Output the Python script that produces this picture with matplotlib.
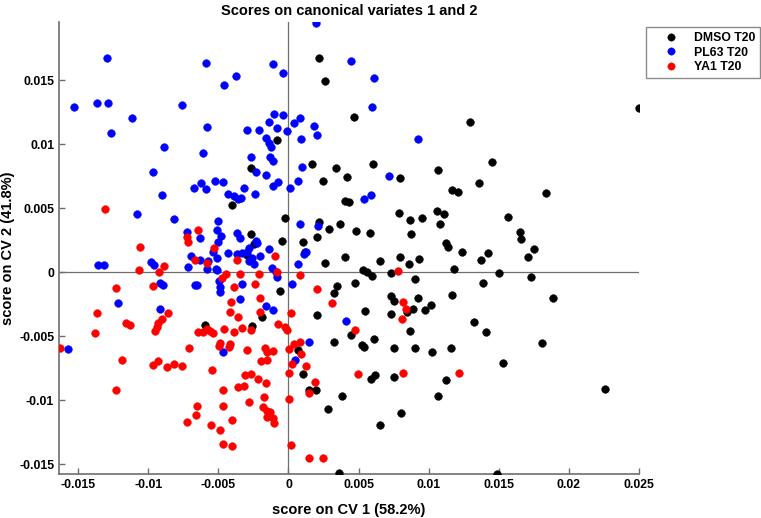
import matplotlib
matplotlib.use("Agg")
import matplotlib.pyplot as plt

plt.rcParams['font.family'] = ['Liberation Sans', 'DejaVu Sans']

title = "Scores on canonical variates 1 and 2"
xlabel = "score on CV 1 (58.2%)"
ylabel = "score on CV 2 (41.8%)"
group_names = ["DMSO T20", "PL63 T20", "YA1 T20"]
group_colors = ["#000000", "#0000ff", "#ff0000"]

xticks = [-0.015, -0.01, -0.005, 0, 0.005, 0.01, 0.015, 0.02, 0.025]
xticklabels = ["-0.015", "-0.01", "-0.005", "0", "0.005", "0.01", "0.015", "0.02", "0.025"]
yticks = [-0.015, -0.01, -0.005, 0, 0.005, 0.01, 0.015]
yticklabels = ["-0.015", "-0.01", "-0.005", "0", "0.005", "0.01", "0.015"]

dmso_x = [0.00219, 0.00262, 0.00469, -0.00081, -0.00269, -0.00406, -0.00027, 0.00169, 0.00336, 0.00248,
          0.00417, 0.00601, 0.00407, 0.00431, 0.00216, 0.00286, 0.00367, 0.00479, 0.00582, 0.00203,
          0.00103, -0.00043, -0.00266, 0.00118, 0.00405, -0.00243, -0.00297, 0.02505, 0.01293, 0.01453,
          0.01067, 0.00793, 0.01357, 0.01169, 0.01210, 0.01841, 0.00791, 0.00864, 0.00953, 0.01059,
          0.01112, 0.01081, 0.01564, 0.01650, 0.01657, 0.01755, 0.00876, 0.01121, 0.01136, 0.01236,
          0.01421, 0.01371, 0.00798, 0.00934, 0.01710, 0.01179, 0.01505, 0.01731, 0.01386, 0.01891,
          0.01167, 0.00905, 0.00729, 0.00734, 0.00755, 0.00926, 0.00889, 0.00846, 0.00974, 0.01014,
          0.00734, 0.00867, 0.01321, 0.01410, 0.01812, 0.00755, 0.00903, 0.01026, 0.01160, 0.01531,
          0.00753, 0.01124, 0.01069, 0.02260, 0.00800, 0.00655, 0.01491, 0.00448, 0.00526, 0.00539,
          0.00612, 0.00591, 0.00617, 0.00384, 0.00362, 0.00650, 0.00860, 0.00534, 0.00564, 0.00594,
          0.00476, 0.00546, -0.00595, -0.00261, -0.00191, -0.00061, 0.00323, 0.00346, 0.00203, 0.00262,
          0.00067, 0.00101, 0.00150, 0.00200, 0.00280, 0.00323]
dmso_y = [0.01670, 0.01497, 0.01213, 0.01031, 0.00813, 0.00522, 0.00420, 0.00842, 0.00811, 0.00716,
          0.00747, 0.00842, 0.00559, 0.00545, 0.00393, 0.00337, 0.00375, 0.00320, 0.00309, 0.00273,
          0.00233, 0.00248, 0.00297, 0.00159, 0.00122, 0.00219, 0.00135, 0.01284, 0.01172, 0.00862,
          0.00799, 0.00734, 0.00698, 0.00643, 0.00627, 0.00620, 0.00466, 0.00405, 0.00424, 0.00475,
          0.00455, 0.00375, 0.00432, 0.00317, 0.00263, 0.00180, 0.00299, 0.00231, 0.00200, 0.00159,
          0.00148, 0.00096, 0.00120, 0.00104, 0.00116, 0.00028, -0.00005, -0.00037, -0.00084, -0.00201,
          -0.00180, -0.00052, -0.00008, -0.00185, -0.00224, -0.00203, -0.00289, -0.00308, -0.00292, -0.00255,
          -0.00326, -0.00459, -0.00391, -0.00464, -0.00552, -0.00589, -0.00594, -0.00620, -0.00594, -0.00709,
          -0.00820, -0.00841, -0.00969, -0.00909, -0.01099, -0.01197, -0.01576, -0.00492, -0.00568, -0.00584,
          -0.00519, -0.00836, -0.00800, -0.00969, -0.01570, 0.00086, 0.00063, 0.00020, 0.00000, -0.00027,
          -0.00084, -0.00305, -0.00414, -0.00417, -0.00347, -0.00144, -0.00164, -0.00107, -0.00330, 0.00070,
          -0.00609, -0.00795, -0.00916, -0.00920, -0.01066, -0.00542]

pl63_x = [0.00198, -0.01296, -0.00586, -0.00371, -0.00461, -0.00113, -0.00038, -0.01533, -0.01364, -0.01288,
          -0.01116, -0.01264, -0.00759, -0.00579, -0.00890, -0.00611, -0.00969, -0.00906, -0.01081, -0.00816,
          -0.00674, -0.00624, -0.00586, -0.00524, -0.00470, -0.00434, -0.00386, -0.00359, -0.00336, -0.00314,
          -0.00241, -0.00293, -0.00208, -0.00270, -0.00229, -0.00159, -0.00140, -0.00106, -0.00036, -0.00079,
          -0.00161, -0.00141, -0.00127, -0.00132, -0.00113, -0.00111, -0.00074, 0.00009, -0.00009, 0.00041,
          0.00084, 0.00093, 0.00179, 0.00201, 0.00066, 0.00098, 0.00446, 0.00607, 0.00598, 0.00541,
          0.00591, 0.00085, 0.00212, -0.00504, -0.00509, -0.00479, -0.00504, -0.00724, -0.00631, -0.00369,
          -0.00349, -0.00231, -0.00222, -0.00140, 0.00924, 0.00721, -0.00699, -0.00634, -0.01359, -0.01314,
          -0.00983, -0.00957, -0.00716, -0.00914, -0.00893, -0.00669, -0.00652, -0.01216, -0.00914, -0.01574,
          -0.00536, -0.00509, -0.00574, -0.00519, -0.00507, -0.00581, -0.00433, -0.00364, -0.00331, -0.00295,
          -0.00281, -0.00257, -0.00247, -0.00202, -0.00279, -0.00114, -0.00088, -0.00079, 0.00067, 0.00112,
          0.00123, 0.00024, -0.00329, -0.00347, -0.00161, -0.00109, -0.00499, -0.00491, -0.00488, -0.00470,
          0.00150, 0.00050, 0.00410]
pl63_y = [0.01950, 0.01677, 0.01638, 0.01534, 0.01466, 0.01625, 0.01556, 0.01294, 0.01325, 0.01325,
          0.01208, 0.01088, 0.01305, 0.01135, 0.00979, 0.00932, 0.00786, 0.00604, 0.00458, 0.00416,
          0.00656, 0.00700, 0.00648, 0.00713, 0.00702, 0.00612, 0.00594, 0.00573, 0.00577, 0.00656,
          0.00609, 0.01114, 0.01114, 0.00902, 0.00784, 0.00756, 0.01174, 0.01237, 0.01229, 0.01130,
          0.01045, 0.01012, 0.00979, 0.00901, 0.00871, 0.00670, 0.00703, 0.00656, 0.01104, 0.01164,
          0.01202, 0.01043, 0.01139, 0.01073, 0.00716, 0.00823, 0.01653, 0.01520, 0.01288, 0.00575,
          0.00604, 0.00377, 0.00358, 0.00403, 0.00327, 0.00281, 0.00239, 0.00311, 0.00266, 0.00305,
          0.00266, 0.00245, 0.00225, 0.00178, 0.01044, 0.00752, 0.00125, 0.00096, 0.00057, 0.00057,
          0.00078, 0.00059, 0.00041, -0.00086, -0.00102, -0.00102, -0.00102, -0.00242, -0.00287, -0.00602,
          0.00156, 0.00109, 0.00088, 0.00026, 0.00016, 0.00028, 0.00148, 0.00141, 0.00151, 0.00161,
          0.00088, 0.00114, 0.00063, 0.00130, 0.00188, 0.00037, 0.00000, -0.00034, 0.00065, 0.00141,
          0.00159, -0.00094, -0.00094, -0.00209, -0.00261, -0.00295, -0.00072, -0.00119, -0.00154, -0.00623,
          -0.00542, -0.00685, -0.00378]

ya1_x = [-0.01307, -0.01063, -0.00645, -0.00721, -0.00714, -0.00529, -0.00095, -0.00664, -0.00888, -0.01066,
         -0.00927, -0.01229, -0.00969, -0.01364, -0.00857, -0.00900, -0.01159, -0.01133, -0.00929, -0.01381,
         -0.00956, -0.00936, -0.01630, -0.01191, -0.00964, -0.00933, -0.00866, -0.00818, -0.00758, -0.01229,
         -0.00713, -0.00643, -0.00650, -0.00657, -0.00725, -0.00609, -0.00581, -0.00559, -0.00541, -0.00461,
         -0.00388, -0.00333, -0.00266, -0.00077, -0.00024, -0.00014, -0.00495, -0.00486, -0.00419, -0.00426,
         -0.00293, -0.00166, -0.00154, -0.00111, -0.00193, -0.00154, 0.00003, 0.00036, 0.00079, 0.00089,
         0.00024, 0.00126, 0.00007, 0.00191, 0.00150, 0.00001, 0.00019, 0.00148, 0.00243, -0.00549,
         -0.00466, -0.00363, -0.00315, -0.00309, -0.00269, -0.00221, -0.00161, -0.00177, -0.00281, -0.00464,
         -0.00179, -0.00154, -0.00129, -0.00154, -0.00111, -0.00104, -0.00550, -0.00486, -0.00404, -0.00469,
         -0.00404, -0.00583, -0.00366, -0.00443, -0.00476, -0.00349, -0.00213, -0.00083, 0.00080, -0.00388,
         -0.00236, 0.00206, -0.00206, -0.00407, -0.00416, -0.00359, -0.00204, 0.00021, 0.00314, 0.00784,
         0.00819, 0.00841, 0.00810, 0.00817, 0.01217, 0.00474, 0.00493]
ya1_y = [0.00497, 0.00200, 0.00330, 0.00278, 0.00233, 0.00191, 0.00127, 0.00096, 0.00052, 0.00018,
         0.00001, -0.00120, -0.00107, -0.00320, -0.00320, -0.00363, -0.00400, -0.00414, -0.00400, -0.00476,
         -0.00459, -0.00427, -0.00588, -0.00683, -0.00723, -0.00691, -0.00742, -0.00714, -0.00730, -0.00920,
         -0.00591, -0.00469, -0.01045, -0.01116, -0.01172, -0.00470, -0.00443, -0.00459, -0.00472, -0.00445,
         -0.00466, -0.00434, -0.00453, -0.00408, -0.00426, -0.00451, -0.00573, -0.00552, -0.00560, -0.00586,
         -0.00605, -0.00588, -0.00620, -0.00617, -0.00695, -0.00688, -0.00602, -0.00560, -0.00547, -0.00636,
         -0.00716, -0.00730, -0.00784, -0.00855, -0.00941, -0.00990, -0.01352, -0.01452, -0.01452, -0.00767,
         -0.00918, -0.00896, -0.00892, -0.00802, -0.00796, -0.00832, -0.00863, -0.00972, -0.01017, -0.01045,
         -0.01050, -0.01084, -0.01091, -0.01127, -0.01141, -0.01177, -0.01193, -0.01234, -0.01154, -0.01340,
         -0.01357, 0.00070, 0.00094, -0.00013, -0.00042, -0.00011, -0.00013, 0.00000, -0.00023, -0.00115,
         -0.00091, -0.00130, -0.00198, -0.00234, -0.00309, -0.00352, -0.00312, -0.00320, -0.00244, 0.00013,
         -0.00234, -0.00287, -0.00363, -0.00787, -0.00784, -0.00448, -0.00797]

groups_x = [dmso_x, pl63_x, ya1_x]
groups_y = [dmso_y, pl63_y, ya1_y]

fig = plt.figure(figsize=(7.61, 5.18), dpi=100)
ax = fig.add_axes([59 / 761, 44 / 518, (638.7 - 59) / 761, 452 / 518])

gray = "#6e6e6e"
ax.axhline(0, color=gray, lw=0.9, zorder=1)
ax.axvline(0, color=gray, lw=0.9, zorder=1)

handles = []
for gx, gy, name, col in zip(groups_x, groups_y, group_names, group_colors):
    h, = ax.plot(gx, gy, linestyle="none", marker="o", markersize=5.6,
                 markerfacecolor=col, markeredgecolor=col, markeredgewidth=0.3,
                 label=name, zorder=3)
    handles.append(h)

ax.set_xlim(-0.01638, 0.025)
ax.set_ylim(-0.01576, 0.01955)
ax.set_xticks(xticks)
ax.set_xticklabels(xticklabels)
ax.set_yticks(yticks)
ax.set_yticklabels(yticklabels)

for s in ["top", "right"]:
    ax.spines[s].set_visible(False)
for s in ["left", "bottom"]:
    ax.spines[s].set_color(gray)
    ax.spines[s].set_linewidth(1.2)

ax.tick_params(direction="in", length=4, width=1, color=gray, labelsize=8.8,
               pad=3.5)
for lab in ax.get_xticklabels() + ax.get_yticklabels():
    lab.set_fontweight("bold")

ax.set_title(title, fontsize=10.5, fontweight="bold", pad=5)
ax.set_xlabel(xlabel, fontsize=10.5, fontweight="bold", labelpad=9)
ax.set_ylabel(ylabel, fontsize=10.5, fontweight="bold", labelpad=3)

leg = fig.legend(handles=handles, loc="upper left",
                 bbox_to_anchor=(645.5 / 761, 1 - 27.3 / 518),
                 frameon=True, fancybox=False, edgecolor=gray,
                 prop={"weight": "bold", "size": 8.8},
                 handlelength=3.3, handletextpad=0.25, borderpad=0.4,
                 labelspacing=0.2, borderaxespad=0, markerscale=0.95)
leg.get_frame().set_linewidth(1.0)

fig.savefig("out.png", dpi=100)
